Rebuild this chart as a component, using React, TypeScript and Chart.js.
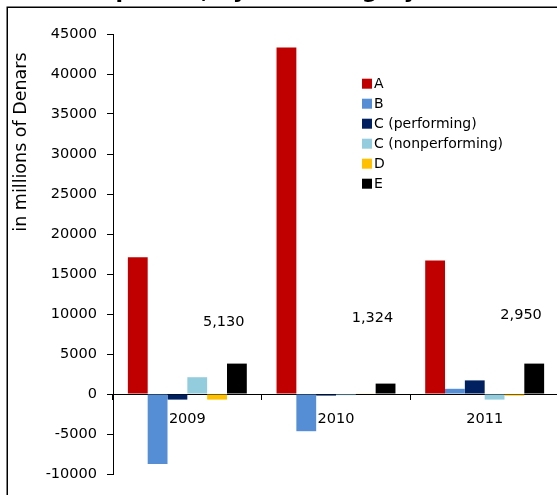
import React, { useEffect, useRef } from "react";
import { Chart, registerables } from "chart.js";

Chart.register(...registerables);

const categories = ["2009", "2010", "2011"];
const seriesNames = ["A", "B", "C (performing)", "C (nonperforming)", "D", "E"];
const seriesA = [17100, 43300, 16700];
const seriesB = [-8750, -4650, 650];
const seriesCPerf = [-700, -200, 1700];
const seriesCNonPerf = [2100, -150, -700];
const seriesD = [-700, 50, -200];
const seriesE = [3800, 1300, 3800];
const seriesColors = ["#C00000", "#558ED5", "#002060", "#93CDDD", "#FFC000", "#000000"];
const yMin = -10000;
const yMax = 45000;
const yStep = 5000;
const noteLabels = ["5,130", "1,324", "2,950"];
const noteValues = [8950, 9450, 9900];
const titleText = "Credit exposure, by risk category";
const yAxisTitle = "in millions of Denars";

const FONT = "'DejaVu Sans', Verdana, sans-serif";

const decor = {
  id: "decor",
  beforeDraw(chart: any) {
    const ctx = chart.ctx;
    ctx.save();
    ctx.fillStyle = "#ffffff";
    ctx.fillRect(0, 0, chart.width, chart.height);
    ctx.strokeStyle = "#000000";
    ctx.lineWidth = 1.5;
    ctx.strokeRect(7.25, 7.25, chart.width + 40, chart.height + 40);
    ctx.fillStyle = "#000000";
    ctx.font = "bold 22px " + FONT;
    ctx.textAlign = "left";
    ctx.textBaseline = "alphabetic";
    ctx.fillText(titleText, 3, -2);
    ctx.translate(21, 142);
    ctx.rotate(-Math.PI / 2);
    ctx.font = "17.5px " + FONT;
    ctx.textAlign = "center";
    ctx.textBaseline = "middle";
    ctx.fillText(yAxisTitle, 0, 0);
    ctx.restore();
  },
  afterDatasetsDraw(chart: any) {
    const ctx = chart.ctx;
    const xs = chart.scales.x;
    const ys = chart.scales.y;
    const catW = (xs.right - xs.left) / categories.length;
    ctx.save();
    ctx.fillStyle = "#000000";
    ctx.font = "14.5px " + FONT;
    ctx.textAlign = "center";
    ctx.textBaseline = "middle";
    noteLabels.forEach((t, i) => {
      ctx.fillText(t, xs.getPixelForValue(i) + catW * 0.245, ys.getPixelForValue(noteValues[i]));
    });
    ctx.font = "14px " + FONT;
    ctx.textAlign = "left";
    chart.data.datasets.forEach((ds: any, i: number) => {
      const cy = 83.7 + i * 20;
      ctx.fillStyle = ds.backgroundColor;
      ctx.fillRect(362, cy - 5, 10, 10);
      ctx.fillStyle = "#000000";
      ctx.fillText(ds.label, 374, cy + 0.5);
    });
    ctx.restore();
  },
};

export default function App() {
  const ref = useRef<HTMLCanvasElement | null>(null);
  useEffect(() => {
    if (!ref.current) return;
    const values = [seriesA, seriesB, seriesCPerf, seriesCNonPerf, seriesD, seriesE];
    const chart = new Chart(ref.current, {
      type: "bar",
      data: {
        labels: categories,
        datasets: seriesNames.map((name, i) => ({
          label: name,
          data: values[i],
          backgroundColor: seriesColors[i],
          borderWidth: 0,
          categoryPercentage: 0.8,
          barPercentage: 1.0,
        })),
      },
      options: {
        responsive: false,
        animation: false,
        devicePixelRatio: 1,
        layout: { padding: { top: 34, right: 41, bottom: 21, left: 0 } },
        plugins: {
          legend: { display: false },
          title: { display: false },
          tooltip: { enabled: false },
        },
        scales: {
          x: {
            position: { y: 0 } as any,
            grid: {
              display: true,
              drawOnChartArea: false,
              drawTicks: true,
              tickLength: 5,
              color: "#000000",
              offset: true,
            },
            border: { display: true, color: "#000000", width: 1 },
            ticks: {
              color: "#000000",
              font: { family: FONT, size: 14.5 },
              padding: 12,
              maxRotation: 0,
            },
          },
          y: {
            min: yMin,
            max: yMax,
            afterFit: (scale: any) => {
              scale.width = 113;
            },
            grid: {
              display: true,
              drawOnChartArea: false,
              drawTicks: true,
              tickLength: 6,
              color: "#000000",
            },
            border: { display: true, color: "#000000", width: 1 },
            ticks: {
              stepSize: yStep,
              color: "#000000",
              font: { family: FONT, size: 14.5 },
              padding: 10,
              callback: (v: any) => String(v),
            },
          },
        },
      },
      plugins: [decor],
    });
    return () => chart.destroy();
  }, []);
  return (
    <div style={{ position: "absolute", left: 0, top: 0, width: 557, height: 495, overflow: "hidden", background: "#fff" }}>
      <canvas ref={ref} width={600} height={495} style={{ display: "block" }} />
    </div>
  );
}
